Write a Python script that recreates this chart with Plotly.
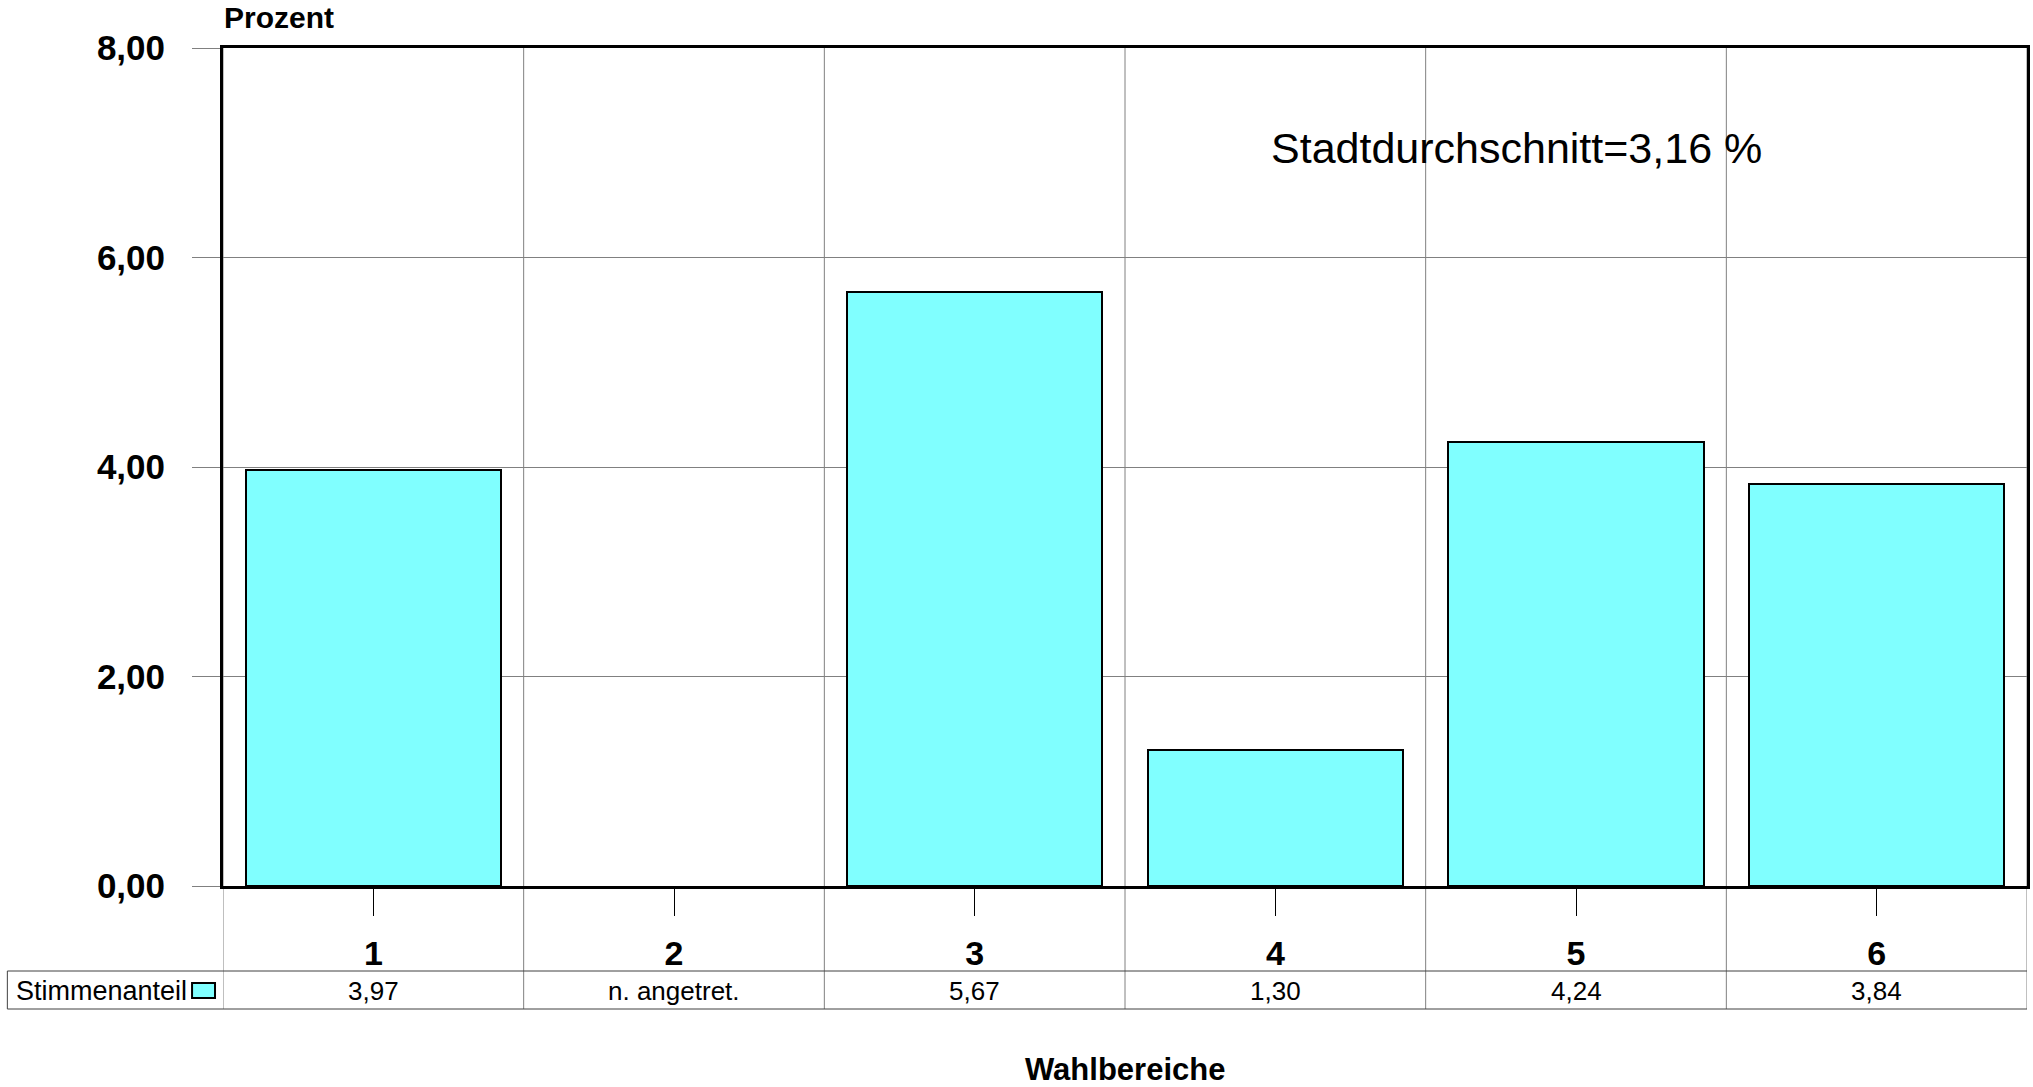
import plotly.graph_objects as go

categories = ["1", "2", "3", "4", "5", "6"]
values = [3.97, None, 5.67, 1.30, 4.24, 3.84]
table_text = ["3,97", "n. angetret.", "5,67", "1,30", "4,24", "3,84"]
y_ticks = [0, 2, 4, 6, 8]
series_name = "Stimmenanteil"
note = "Stadtdurchschnitt=3,16 %"

W, H = 2033, 1087
L, R, T, B = 223, 3, 48, 1087 - 886
PW, PH = W - L - R, H - T - B
FONT = "Liberation Sans, Arial, sans-serif"
BAR_COLOR = "#80FFFF"
GRID = "#808080"


def px_x(p):
    return (p - L) / PW


def px_y(p):
    return (H - B - p) / PH


xs = list(range(len(categories)))

fig = go.Figure()
fig.add_trace(go.Bar(
    x=xs, y=values, width=0.85,
    marker=dict(color=BAR_COLOR, line=dict(color="black", width=2)),
    name=series_name, showlegend=False, hoverinfo="skip",
))

shapes = []
for k in range(len(categories) + 1):
    xb = k - 0.5
    shapes.append(dict(type="line", xref="x", yref="paper", x0=xb, x1=xb,
                       y0=px_y(1009), y1=1, line=dict(color=GRID, width=1),
                       layer="below"))
for yy in (971, 1009):
    shapes.append(dict(type="line", xref="paper", yref="paper",
                       x0=px_x(7), x1=1, y0=px_y(yy), y1=px_y(yy),
                       line=dict(color="#404040", width=1)))
shapes.append(dict(type="line", xref="paper", yref="paper",
                   x0=px_x(7), x1=px_x(7), y0=px_y(971), y1=px_y(1009),
                   line=dict(color="#404040", width=1)))
shapes.append(dict(type="rect", xref="paper", yref="paper",
                   x0=px_x(192), x1=px_x(215), y0=px_y(998), y1=px_y(983),
                   fillcolor=BAR_COLOR, line=dict(color="black", width=2)))

annotations = []
for x, t in zip(xs, table_text):
    annotations.append(dict(x=x, y=px_y(991), xref="x", yref="paper",
                            text=t, showarrow=False,
                            font=dict(family=FONT, size=26, color="black"),
                            xanchor="center", yanchor="middle"))
annotations.append(dict(x=px_x(189), y=px_y(991), xref="paper", yref="paper",
                        text=series_name, showarrow=False,
                        font=dict(family=FONT, size=27, color="black"),
                        xanchor="right", yanchor="middle"))
annotations.append(dict(x=0.5, y=px_y(1069), xref="paper", yref="paper",
                        text="<b>Wahlbereiche</b>", showarrow=False,
                        font=dict(family=FONT, size=31, color="black"),
                        xanchor="center", yanchor="middle"))
annotations.append(dict(x=px_x(222), y=px_y(17), xref="paper", yref="paper",
                        text="<b>Prozent</b>", showarrow=False,
                        font=dict(family=FONT, size=30, color="black"),
                        xanchor="left", yanchor="middle"))
annotations.append(dict(x=px_x(1271), y=px_y(148), xref="paper", yref="paper",
                        text=note, showarrow=False,
                        font=dict(family=FONT, size=43, color="black"),
                        xanchor="left", yanchor="middle"))

fig.update_layout(
    width=W, height=H,
    margin=dict(l=L, r=R, t=T, b=B, pad=0),
    paper_bgcolor="white", plot_bgcolor="white",
    separators=",.",
    font=dict(family=FONT, color="black"),
    shapes=shapes, annotations=annotations,
    bargap=0,
)
fig.update_xaxes(
    range=[-0.5, len(categories) - 0.5],
    tickvals=xs, ticktext=["<b>%s</b>" % c for c in categories],
    tickfont=dict(family=FONT, size=34, color="black"),
    ticks="outside", ticklen=27, tickcolor="black", tickwidth=1,
    ticklabelstandoff=8,
    showgrid=False, zeroline=False,
    showline=True, linecolor="black", linewidth=3, mirror=True,
)
fig.update_yaxes(
    range=[0, 8], tickvals=y_ticks,
    ticktext=["<b>%s</b>" % f"{v:.2f}".replace(".", ",") for v in y_ticks],
    tickfont=dict(family=FONT, size=35, color="black"),
    ticks="outside", ticklen=28, tickcolor=GRID, tickwidth=1,
    ticklabelstandoff=20,
    showgrid=True, gridcolor=GRID, gridwidth=1, zeroline=False,
    showline=True, linecolor="black", linewidth=3, mirror=True,
)

fig.write_html(
    "out.html",
    config={"displayModeBar": False},
    post_script="document.body.style.margin='0px';"
                "document.body.style.overflow='hidden';",
)
